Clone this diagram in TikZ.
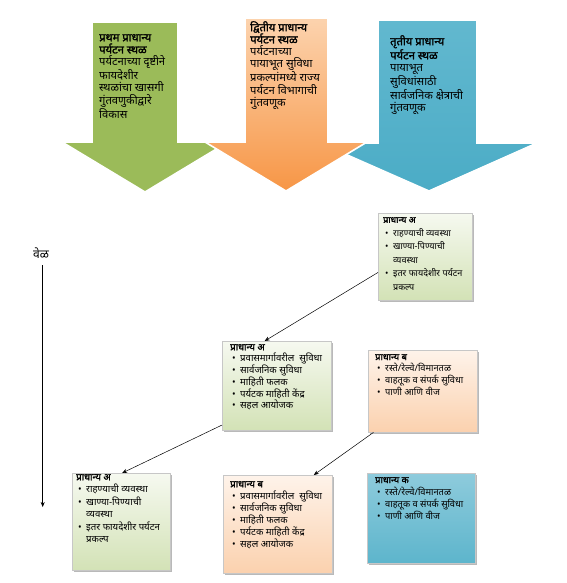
\documentclass[tikz,border=0pt]{standalone}
\usepackage{fontspec}
\setmainfont[Script=Devanagari,BoldFont={Noto Sans},BoldFeatures={FakeBold=1.6}]{Noto Sans}
\usetikzlibrary{arrows.meta,shadows,calc}
\definecolor{grn}{HTML}{9BBB59}
\definecolor{org}{HTML}{F79646}
\definecolor{orgl}{HTML}{FCD3AE}
\definecolor{blu}{HTML}{4BACC6}
\definecolor{blul}{HTML}{62B8CF}
\definecolor{gbtop}{HTML}{F6F9F0}
\definecolor{gbbot}{HTML}{D3E2B6}
\definecolor{obtop}{HTML}{FEF3EA}
\definecolor{obbot}{HTML}{FBD1AE}
\definecolor{bbtop}{HTML}{8ECBDC}
\definecolor{bbbot}{HTML}{5DB5CC}
\newcommand{\bitm}[1]{\hspace*{2pt}\makebox[8pt][l]{•}#1}
\newcommand{\bcont}[1]{\hspace*{10pt}#1}
\begin{document}
\begin{tikzpicture}[x=1pt,y=-1pt,
  bigarrow/.style={draw=white,line width=1.6pt,line join=miter},
  arrtxt/.style={anchor=north west,inner sep=0pt,align=left,font=\fontsize{11.2}{12.2}\selectfont},
  boxbase/.style={anchor=north west,inner sep=0pt,draw=black!22,line width=0.4pt,
    drop shadow={shadow xshift=1.6pt,shadow yshift=-1.6pt,fill=black!50,opacity=0.55}},
  gbox/.style={boxbase,top color=gbtop,bottom color=gbbot},
  obox/.style={boxbase,top color=obtop,bottom color=obbot},
  bbox/.style={boxbase,top color=bbtop,bottom color=bbbot},
  boxtxt/.style={anchor=north west,inner sep=0pt,align=left},
  conn/.style={draw=black,line width=0.5pt,-{Stealth[length=5pt,width=4pt]}}
]
\useasboundingbox[fill=white] (0,0) rectangle (566,583);

% big arrows
\path[bigarrow,fill=grn] (92,22) -- (178,22) -- (178,142) -- (228,142) -- (145,192) -- (62,142) -- (92,142) -- cycle;
\path[bigarrow,top color=blul,bottom color=blu] (378,20) -- (477,20) -- (477,143) -- (537,143) -- (429,191) -- (320,143) -- (378,143) -- cycle;
\path[bigarrow,top color=orgl,bottom color=org] (245,18) -- (328,18) -- (328,142) -- (367,142) -- (286,191) -- (205,142) -- (245,142) -- cycle;

\node[arrtxt] (t1) at (99,34) {{\bfseries प्रथम प्राधान्य}\\{\bfseries पर्यटन स्थळ}\\पर्यटनाच्या दृष्टीने\\फायदेशीर\\स्थळांचा खासगी\\गुंतवणुकीद्वारे\\विकास};
\node[arrtxt] (t2) at (250,21) {{\bfseries द्वितीय प्राधान्य}\\{\bfseries पर्यटन स्थळ}\\पर्यटनाच्या\\पायाभूत सुविधा\\प्रकल्पांमध्ये राज्य\\पर्यटन विभागाची\\गुंतवणूक};
\node[arrtxt] (t3) at (390,35) {{\bfseries तृतीय प्राधान्य}\\{\bfseries पर्यटन स्थळ}\\पायाभूत\\सुविधांसाठी\\सार्वजनिक क्षेत्राची\\गुंतवणूक};

% boxes
\node[gbox,minimum width=94pt,minimum height=87pt] (a1) at (378,213) {};
\node[gbox,minimum width=109pt,minimum height=89pt] (a2) at (222,341) {};
\node[obox,minimum width=109pt,minimum height=82pt] (b2) at (368,350) {};
\node[gbox,minimum width=98pt,minimum height=97pt] (a3) at (72,473) {};
\node[obox,minimum width=109pt,minimum height=98pt] (b3) at (223,475) {};
\node[bbox,minimum width=108pt,minimum height=90pt] (c3) at (367,473) {};

\node[boxtxt,font=\fontsize{9}{13.5}\selectfont] (ta1) at (383,217) {{\bfseries प्राधान्य अ}\\\bitm{राहण्याची व्यवस्था}\\\bitm{खाण्या-पिण्याची}\\\bcont{व्यवस्था}\\\bitm{इतर फायदेशीर पर्यटन}\\\bcont{प्रकल्प}};
\node[boxtxt,font=\fontsize{9.6}{11.7}\selectfont] (ta2) at (230,344) {{\bfseries प्राधान्य अ}\\\bitm{प्रवासमार्गावरील\hspace{5pt}सुविधा}\\\bitm{सार्वजनिक सुविधा}\\\bitm{माहिती फलक}\\\bitm{पर्यटक माहिती केंद्र}\\\bitm{सहल आयोजक}};
\node[boxtxt,font=\fontsize{9.3}{11.7}\selectfont] (tb2) at (375,354) {{\bfseries प्राधान्य ब}\\\bitm{रस्ते/रेल्वे/विमानतळ}\\\bitm{वाहतूक व संपर्क सुविधा}\\\bitm{पाणी आणि वीज}};
\node[boxtxt,font=\fontsize{9.6}{12.5}\selectfont] (ta3) at (76,474) {{\bfseries प्राधान्य अ}\\\bitm{राहण्याची व्यवस्था}\\\bitm{खाण्या-पिण्याची}\\\bcont{व्यवस्था}\\\bitm{इतर फायदेशीर पर्यटन}\\\bcont{प्रकल्प}};
\node[boxtxt,font=\fontsize{9.6}{12}\selectfont] (tb3) at (230,481) {{\bfseries प्राधान्य ब}\\\bitm{प्रवासमार्गावरील\hspace{5pt}सुविधा}\\\bitm{सार्वजनिक सुविधा}\\\bitm{माहिती फलक}\\\bitm{पर्यटक माहिती केंद्र}\\\bitm{सहल आयोजक}};
\node[boxtxt,font=\fontsize{9.3}{12.3}\selectfont] (tc3) at (375,477) {{\bfseries प्राधान्य क}\\\bitm{रस्ते/रेल्वे/विमानतळ}\\\bitm{वाहतूक व संपर्क सुविधा}\\\bitm{पाणी आणि वीज}};

% connectors
\draw[conn] ($(a1.north west)!0.68!(a1.south west)$) -- ($(a2.north west)!0.39!(a2.north east)$);
\draw[conn] ($(a2.north west)!0.94!(a2.south west)$) -- ($(a3.north west)!0.51!(a3.north east)$);
\draw[conn] ($(b2.south west)!0.05!(b2.south east)$) -- ($(b3.north west)!0.83!(b3.north east)$);

% time axis
\node[inner sep=0pt,font=\fontsize{12}{13}\selectfont] (vel) at (41,253) {वेळ};
\coordinate (ax0) at (42.7,265);
\coordinate (ax1) at (42.7,507);
\draw[line width=0.6pt,-{Stealth[length=5pt,width=4pt]}] (ax0) -- (ax1);
\end{tikzpicture}
\end{document}
